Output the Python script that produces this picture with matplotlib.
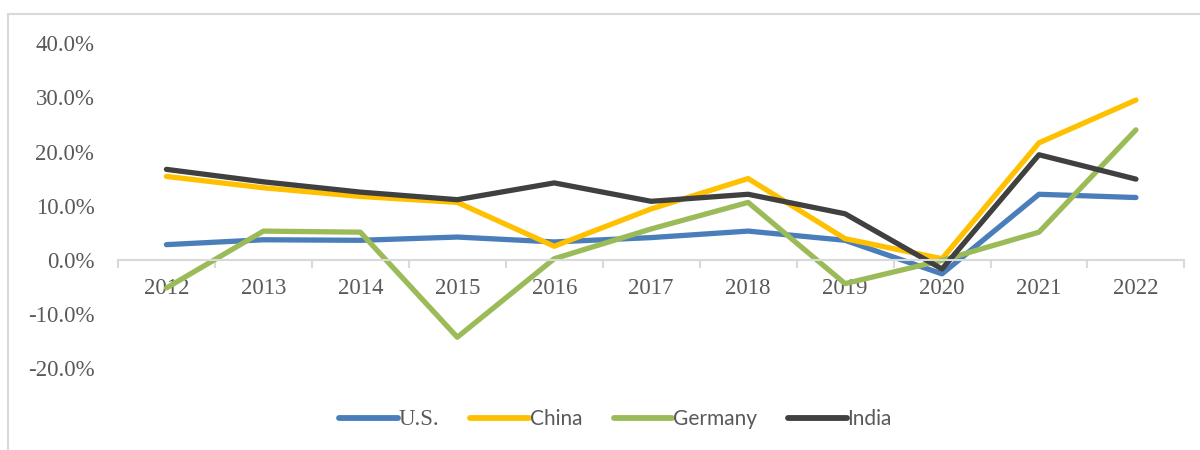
import matplotlib
matplotlib.use('Agg')
import matplotlib.pyplot as plt
from matplotlib.patches import Rectangle
from matplotlib.ticker import FuncFormatter, FixedLocator
import numpy as np

# Data (annual growth, %)
years = ['2012', '2013', '2014', '2015', '2016', '2017', '2018', '2019', '2020', '2021', '2022']
us = [2.8, 3.7, 3.6, 4.2, 3.3, 4.1, 5.3, 3.6, -2.6, 12.1, 11.5]
china = [15.4, 13.3, 11.7, 10.6, 2.5, 9.4, 15.0, 3.9, 0.2, 21.6, 29.5]
germany = [-5.2, 5.3, 5.1, -14.3, 0.2, 5.7, 10.6, -4.4, -0.1, 5.1, 24.0]
india = [16.7, 14.4, 12.5, 11.1, 14.2, 10.8, 12.1, 8.5, -1.7, 19.4, 14.9]

series = [('U.S.', us, '#4a7ebb'),
          ('China', china, '#ffc000'),
          ('Germany', germany, '#9bbb59'),
          ('India', india, '#404040')]

serif = 'Liberation Serif'
text_color = '#595959'

fig = plt.figure(figsize=(12, 4.5), dpi=100)
ax = fig.add_axes([0.0983, 0.182, 0.8887, 0.722])

x = np.arange(len(years))
for name, vals, color in series:
    ax.plot(x, vals, color=color, lw=3.8, label=name,
            solid_capstyle='round', solid_joinstyle='round')

ax.set_ylim(-20, 40)
ax.set_xlim(-0.5, len(years) - 0.5)
ax.set_yticks(np.arange(-20, 41, 10))
ax.yaxis.set_major_formatter(FuncFormatter(lambda v, p: f'{v:.1f}%'))
ax.tick_params(axis='y', length=0, pad=17, labelsize=16.5, labelcolor=text_color)
for lab in ax.get_yticklabels():
    lab.set_fontfamily(serif)

# category axis sits on the zero line, ticks between categories
for s in ['top', 'right', 'left']:
    ax.spines[s].set_visible(False)
ax.spines['bottom'].set_position(('data', 0))
ax.spines['bottom'].set_color('#d9d9d9')
ax.spines['bottom'].set_linewidth(1.5)
ax.xaxis.set_major_locator(FixedLocator(np.arange(len(years) + 1) - 0.5))
ax.xaxis.set_minor_locator(FixedLocator(x))
ax.xaxis.set_major_formatter(plt.NullFormatter())
ax.set_xticks(x, minor=True)
ax.set_xticklabels(years, minor=True)
ax.tick_params(axis='x', which='major', length=6, width=1.5, color='#d9d9d9')
ax.tick_params(axis='x', which='minor', length=0, pad=13, labelsize=16.5,
               labelcolor=text_color)
for lab in ax.get_xticklabels(minor=True):
    lab.set_fontfamily(serif)

leg = fig.legend(loc='center', bbox_to_anchor=(0.513, 0.068), ncol=4, frameon=False,
                 handlelength=2.8, handletextpad=0.05, columnspacing=1.5,
                 prop={'family': 'Lato', 'size': 15})
for i, t in enumerate(leg.get_texts()):
    t.set_color(text_color)
    if i == 0:
        t.set_fontfamily(serif)
        t.set_fontsize(16.5)
for h in leg.get_lines():
    h.set_linewidth(4.2)
    h.set_solid_capstyle('round')

# light chart-area border
fig.patches.append(Rectangle((0.007, -0.02), 1.05, 0.989, transform=fig.transFigure,
                             fill=False, edgecolor='#d9d9d9', lw=1.5))

fig.savefig('out.png', dpi=100)
